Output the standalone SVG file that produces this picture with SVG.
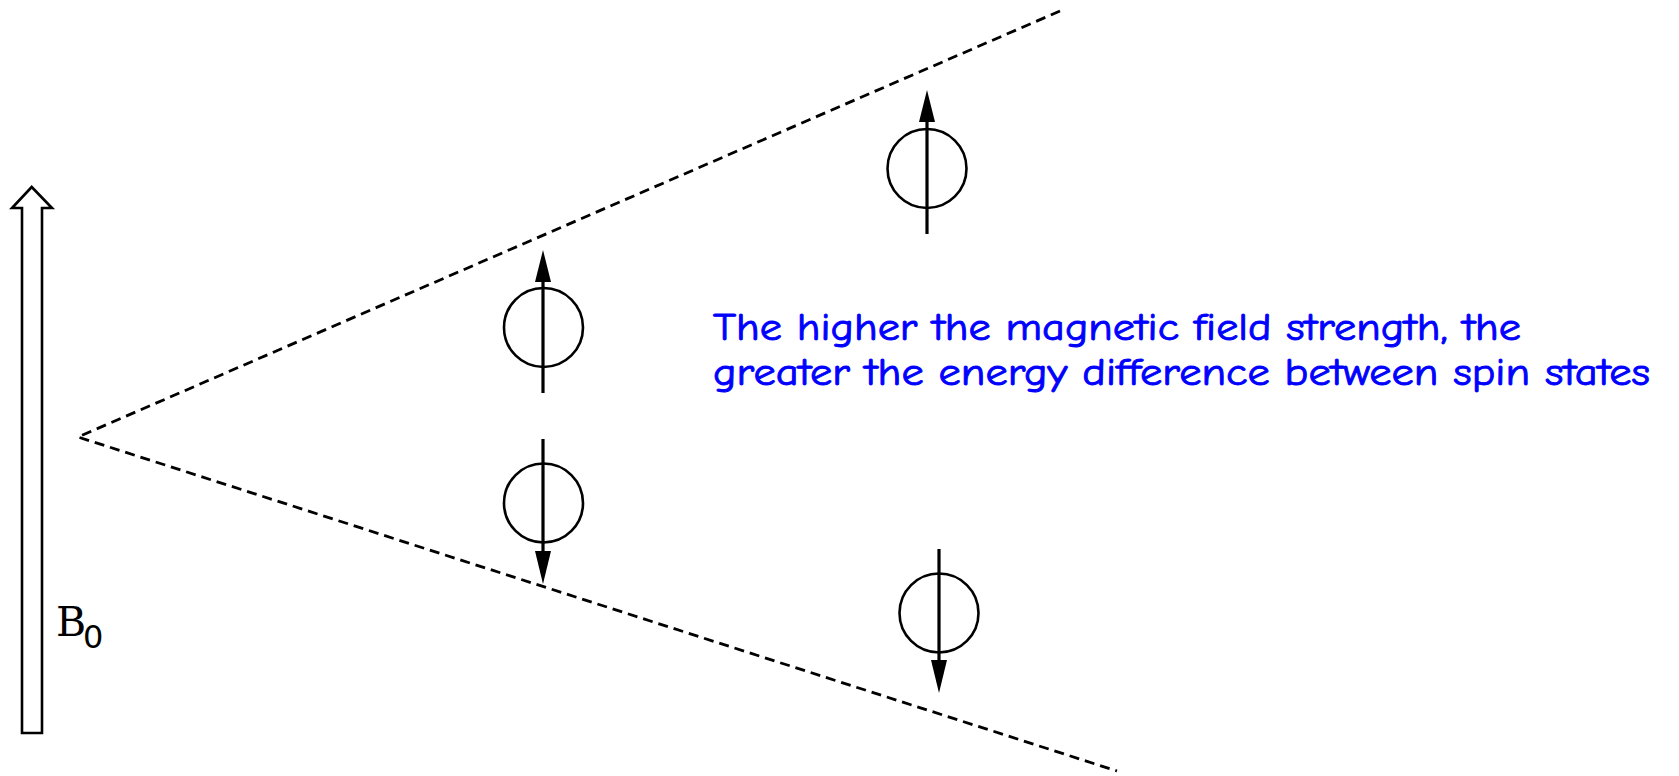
<svg xmlns="http://www.w3.org/2000/svg" width="1679" height="776" viewBox="0 0 1679 776">
<style>
.dash{fill:none;stroke:#000;stroke-width:2.8;stroke-dasharray:10 6}
.ring{fill:none;stroke:#000;stroke-width:2.6}
.stem{stroke:#000;stroke-width:3.2;fill:none}
.head{fill:#000;stroke:none}
.note{font-family:"Comic Sans MS","Comic Neue","Open Sans","Liberation Sans",sans-serif;font-size:39px;fill:#0000ff;stroke:#0000ff;stroke-width:0.9}
</style>
<rect width="1679" height="776" fill="#fff"/>
<g id="field-arrow">
<path d="M22,733 L22,208 L12,208 L31.7,187 L52,208 L42,208 L42,733 Z" fill="#fff" stroke="#000" stroke-width="2.6" stroke-linejoin="miter"/>
<text x="56" y="636" font-family="'DejaVu Serif','Liberation Serif',serif" font-size="41" fill="#000">B</text>
<text x="83" y="648" font-family="'DejaVu Sans','Liberation Sans',sans-serif" font-size="32" fill="#000">0</text>
</g>
<g id="connectors">
<polyline class="dash" points="1060,11 78,437 1117,771"/>
</g>
<g id="spin-upper-left">
<circle class="ring" cx="543.5" cy="327.5" r="39.5"/>
<line class="stem" x1="543" y1="393" x2="543" y2="272"/>
<polygon class="head" points="543,250 535,282 551,282"/>
</g>
<g id="spin-lower-left">
<circle class="ring" cx="543.5" cy="503" r="39.5"/>
<line class="stem" x1="543" y1="439" x2="543" y2="560"/>
<polygon class="head" points="543,584 535,551 551,551"/>
</g>
<g id="spin-upper-right">
<circle class="ring" cx="927" cy="168.5" r="39.5"/>
<line class="stem" x1="927" y1="234" x2="927" y2="112"/>
<polygon class="head" points="927,90 919,122 935,122"/>
</g>
<g id="spin-lower-right">
<circle class="ring" cx="939" cy="613" r="39.5"/>
<line class="stem" x1="939" y1="549" x2="939" y2="670"/>
<polygon class="head" points="939,693 931,660 947,660"/>
</g>
<g id="note">
<text class="note" x="713" y="340" textLength="808" lengthAdjust="spacingAndGlyphs">The higher the magnetic field strength, the</text>
<text class="note" x="713" y="385" textLength="937" lengthAdjust="spacingAndGlyphs">greater the energy difference between spin states</text>
</g>
</svg>
